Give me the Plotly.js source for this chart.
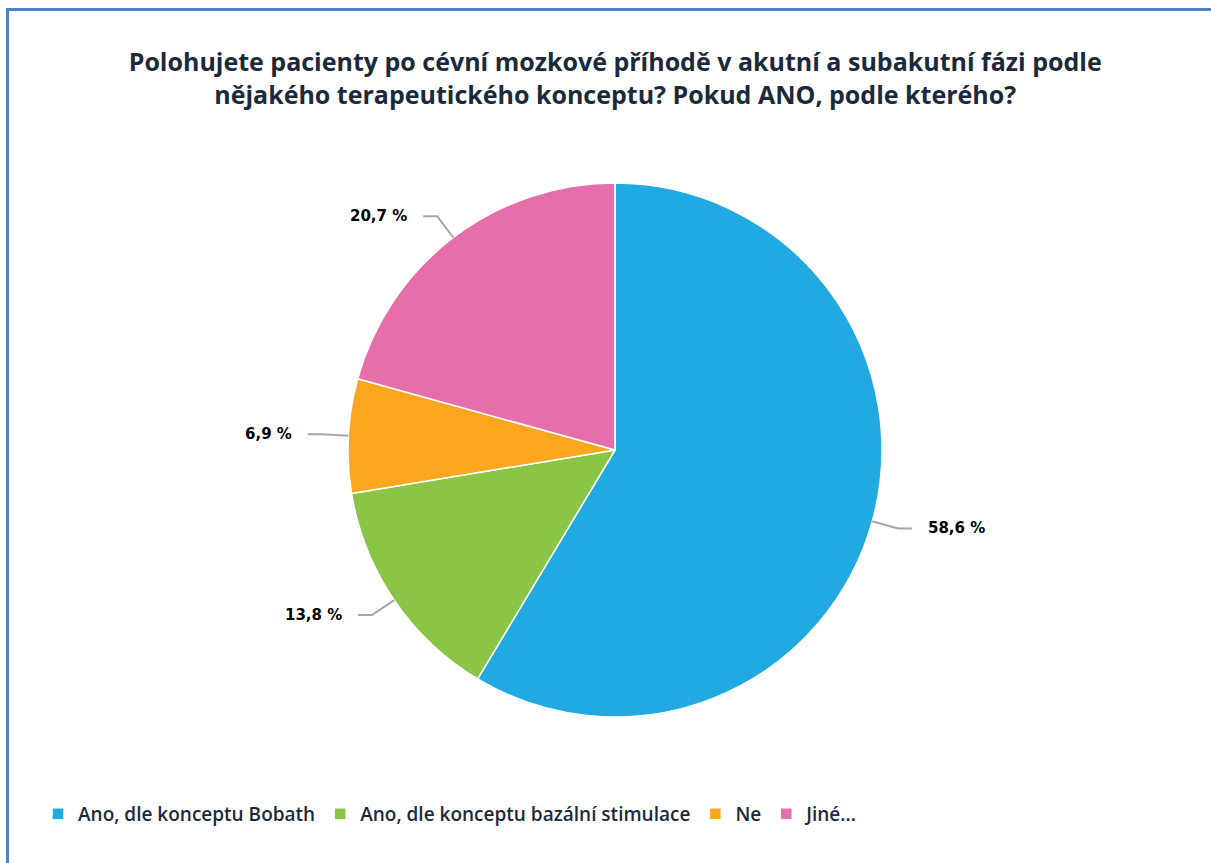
<!DOCTYPE html>
<html>
<head>
<meta charset="utf-8">
<script src="https://cdn.plot.ly/plotly-3.0.1.min.js"></script>
<style>
  html, body { margin: 0; padding: 0; background: #ffffff; }
  #wrap { position: relative; width: 1211px; height: 863px; overflow: hidden; }
  #chart { position: absolute; left: 0; top: 0; width: 1211px; height: 863px; }
  #frame { position: absolute; left: 6px; top: 8px; width: 1300px; height: 1000px;
           border-top: 3px solid #5083c1; border-left: 3px solid #5083c1; pointer-events: none; }
</style>
</head>
<body>
<div id="wrap">
  <div id="chart"></div>
  <div id="frame"></div>
</div>
<script>
const categories = ["Ano, dle konceptu Bobath", "Ano, dle konceptu bazální stimulace", "Ne", "Jiné..."];
const percentValues = [58.6, 13.8, 6.9, 20.7];
const sliceColors = ["#21a9e1", "#8bc546", "#faa71f", "#e66eab"];
const titleText = "Polohujete pacienty po cévní mozkové příhodě v akutní a subakutní fázi podle<br>nějakého terapeutického konceptu? Pokud ANO, podle kterého?";

const W = 1211, H = 863;
const cx = 615, cy = 450, R = 267;   // pie geometry in pixels

const domX = [(cx - R) / W, (cx + R) / W];
const domY = [1 - (cy + R) / H, 1 - (cy - R) / H];

const fmt = v => v.toFixed(1).replace(".", ",") + " %";

// Leader lines and labels derived from the data (clockwise from 12 o'clock)
const total = percentValues.reduce((a, b) => a + b, 0);
const shapes = [];
const annotations = [];
let cum = 0;
percentValues.forEach((v, i) => {
  const mid = (cum + v / 2) / total;
  cum += v;
  const ang = mid * 2 * Math.PI;
  const sx = Math.sin(ang), sy = Math.cos(ang);
  const p0 = [cx + R * sx, cy - R * sy];
  const p1 = [cx + R * 1.1 * sx, cy - R * 1.1 * sy];
  const dir = sx >= 0 ? 1 : -1;
  const p2 = [p1[0] + dir * 14, p1[1]];
  const toPaper = p => [p[0] / W, 1 - p[1] / H];
  const a = toPaper(p0), b = toPaper(p1), c = toPaper(p2);
  shapes.push({type: "path", xref: "paper", yref: "paper",
    path: `M ${a[0]} ${a[1]} L ${b[0]} ${b[1]} L ${c[0]} ${c[1]}`,
    line: {color: "#a6a6a6", width: 2}});
  annotations.push({xref: "paper", yref: "paper", x: c[0] + dir * 14 / W, y: c[1],
    xanchor: dir > 0 ? "left" : "right", yanchor: "middle", showarrow: false,
    text: "<b>" + fmt(v) + "</b>",
    font: {family: "DejaVu Sans, sans-serif", size: 15, color: "#000000"}});
});

const data = [{
  type: "pie",
  labels: categories,
  values: percentValues,
  marker: {colors: sliceColors, line: {color: "#ffffff", width: 1.5}},
  sort: false,
  direction: "clockwise",
  rotation: 0,
  textinfo: "none",
  hoverinfo: "label+percent",
  domain: {x: domX, y: domY}
}];

const layout = {
  width: W, height: H,
  margin: {l: 0, r: 0, t: 0, b: 0},
  paper_bgcolor: "#ffffff",
  title: {text: titleText, x: 0.508, xanchor: "center", y: 1 - 71 / H, yanchor: "middle",
          font: {family: "Open Sans, sans-serif", size: 25, color: "#1b2a3b", weight: 700}},
  showlegend: true,
  legend: {orientation: "h", x: 38 / W, xanchor: "left", y: 1 - 814 / H, yanchor: "middle",
           font: {family: "Open Sans, sans-serif", size: 19, color: "#1b2a3b", weight: 600},
           itemclick: false, tracegroupgap: 0},
  shapes: shapes,
  annotations: annotations
};

Plotly.newPlot("chart", data, layout, {displayModeBar: false, staticPlot: true});
</script>
</body>
</html>
